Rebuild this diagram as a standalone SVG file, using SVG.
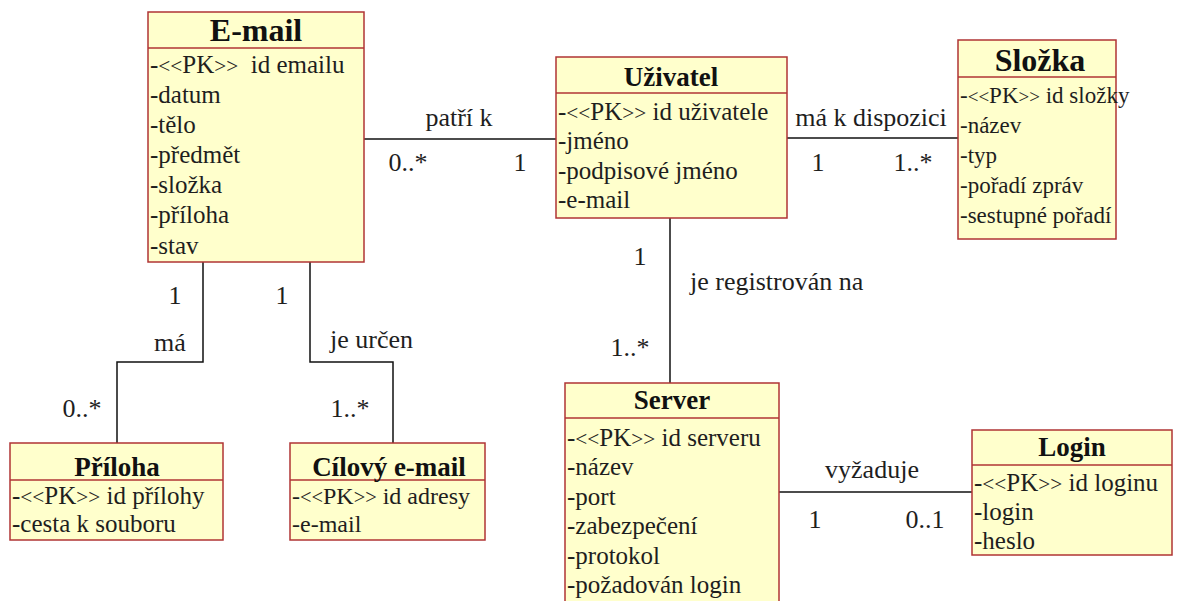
<svg xmlns="http://www.w3.org/2000/svg" width="1180" height="601" viewBox="0 0 1180 601">
<style>
.box{fill:#ffffcc;stroke:#b03434;stroke-width:1.5}
.div{stroke:#b03434;stroke-width:1.5}
text{font-family:'Liberation Serif','Times New Roman','DejaVu Serif',serif;fill:#1e1e1e}
.ttl{font-weight:bold;font-size:27px;fill:#111;text-anchor:middle}
.big{font-size:32px}
.att{font-size:25px}
.a23{font-size:23px}
.a24{font-size:24px}
.lt{font-size:85%}
.lbl{font-size:26px}
.mid{text-anchor:middle}
.con{fill:none;stroke:#111;stroke-width:1.5}
</style>
<rect width="1180" height="601" fill="#ffffff"/>
<g id="connectors">
<line class="con" x1="364" y1="139" x2="556" y2="139"/>
<line class="con" x1="787" y1="138" x2="958" y2="138"/>
<line class="con" x1="670" y1="218" x2="670" y2="383"/>
<line class="con" x1="779" y1="492" x2="972" y2="492"/>
<polyline class="con" points="203,262 203,362 117,362 117,443"/>
<polyline class="con" points="310,262 310,362 393,362 393,443"/>
<text class="lbl mid" x="459" y="126">patří k</text>
<text class="lbl mid" x="408" y="171">0..*</text>
<text class="lbl mid" x="520" y="171">1</text>
<text class="lbl mid" x="871" y="126">má k dispozici</text>
<text class="lbl mid" x="818" y="171">1</text>
<text class="lbl mid" x="913" y="171">1..*</text>
<text class="lbl mid" x="640" y="265">1</text>
<text class="lbl" x="690" y="290">je registrován na</text>
<text class="lbl mid" x="630" y="356">1..*</text>
<text class="lbl mid" x="872" y="478">vyžaduje</text>
<text class="lbl mid" x="815" y="528">1</text>
<text class="lbl mid" x="925" y="528">0..1</text>
<text class="lbl mid" x="175" y="304">1</text>
<text class="lbl mid" x="170" y="351">má</text>
<text class="lbl mid" x="82" y="417">0..*</text>
<text class="lbl mid" x="282" y="304">1</text>
<text class="lbl" x="330" y="348">je určen</text>
<text class="lbl mid" x="350" y="417">1..*</text>
</g>
<g id="email">
<rect class="box" x="148" y="12" width="216" height="250"/>
<line class="div" x1="148" y1="48" x2="364" y2="48"/>
<text class="ttl big" x="256" y="41">E-mail</text>
<text class="att" x="150" y="73">-<tspan class="lt">&lt;&lt;</tspan>PK<tspan class="lt">&gt;&gt;</tspan> &#160;id emailu</text>
<text class="att" x="150" y="103">-datum</text>
<text class="att" x="150" y="133">-tělo</text>
<text class="att" x="150" y="163">-předmět</text>
<text class="att" x="150" y="193">-složka</text>
<text class="att" x="150" y="223">-příloha</text>
<text class="att" x="150" y="254">-stav</text>
</g>
<g id="uzivatel">
<rect class="box" x="556" y="57" width="231" height="161"/>
<line class="div" x1="556" y1="93" x2="787" y2="93"/>
<text class="ttl" x="671" y="86">Uživatel</text>
<text class="att" x="558" y="120">-<tspan class="lt">&lt;&lt;</tspan>PK<tspan class="lt">&gt;&gt;</tspan> id uživatele</text>
<text class="att" x="558" y="149">-jméno</text>
<text class="att" x="558" y="179">-podpisové jméno</text>
<text class="att" x="558" y="208">-e-mail</text>
</g>
<g id="slozka">
<rect class="box" x="958" y="40" width="158" height="199"/>
<line class="div" x1="958" y1="77" x2="1116" y2="77"/>
<text class="ttl big" x="1040" y="71">Složka</text>
<text class="a23" x="960" y="103">-<tspan font-size="19">&lt;&lt;</tspan>PK<tspan font-size="19">&gt;&gt;</tspan> id složky</text>
<text class="a23" x="960" y="133">-název</text>
<text class="a23" x="960" y="163">-typ</text>
<text class="a23" x="960" y="193">-pořadí zpráv</text>
<text class="a23" x="960" y="223">-sestupné pořadí</text>
</g>
<g id="server">
<rect class="box" x="565" y="383" width="214" height="230"/>
<line class="div" x1="565" y1="418" x2="779" y2="418"/>
<text class="ttl" x="672" y="409">Server</text>
<text class="att" x="567" y="446">-<tspan class="lt">&lt;&lt;</tspan>PK<tspan class="lt">&gt;&gt;</tspan> id serveru</text>
<text class="att" x="567" y="475">-název</text>
<text class="att" x="567" y="505">-port</text>
<text class="att" x="567" y="534">-zabezpečení</text>
<text class="att" x="567" y="564">-protokol</text>
<text class="att" x="567" y="593">-požadován login</text>
</g>
<g id="login">
<rect class="box" x="972" y="430" width="200" height="125"/>
<line class="div" x1="972" y1="465" x2="1172" y2="465"/>
<text class="ttl" x="1072" y="456">Login</text>
<text class="att" x="974" y="491">-<tspan class="lt">&lt;&lt;</tspan>PK<tspan class="lt">&gt;&gt;</tspan> id loginu</text>
<text class="att" x="974" y="520">-login</text>
<text class="att" x="974" y="549">-heslo</text>
</g>
<g id="priloha">
<rect class="box" x="10" y="443" width="213" height="97"/>
<line class="div" x1="10" y1="480" x2="223" y2="480"/>
<text class="ttl" x="117" y="476">Příloha</text>
<text class="att" x="12" y="504">-<tspan class="lt">&lt;&lt;</tspan>PK<tspan class="lt">&gt;&gt;</tspan> id přílohy</text>
<text class="att" x="12" y="532">-cesta k souboru</text>
</g>
<g id="cilovy">
<rect class="box" x="290" y="443" width="195" height="97"/>
<line class="div" x1="290" y1="480" x2="485" y2="480"/>
<text class="ttl" x="389" y="476">Cílový e-mail</text>
<text class="a24" x="292" y="504">-<tspan class="lt">&lt;&lt;</tspan>PK<tspan class="lt">&gt;&gt;</tspan> id adresy</text>
<text class="a24" x="292" y="532">-e-mail</text>
</g>
</svg>
